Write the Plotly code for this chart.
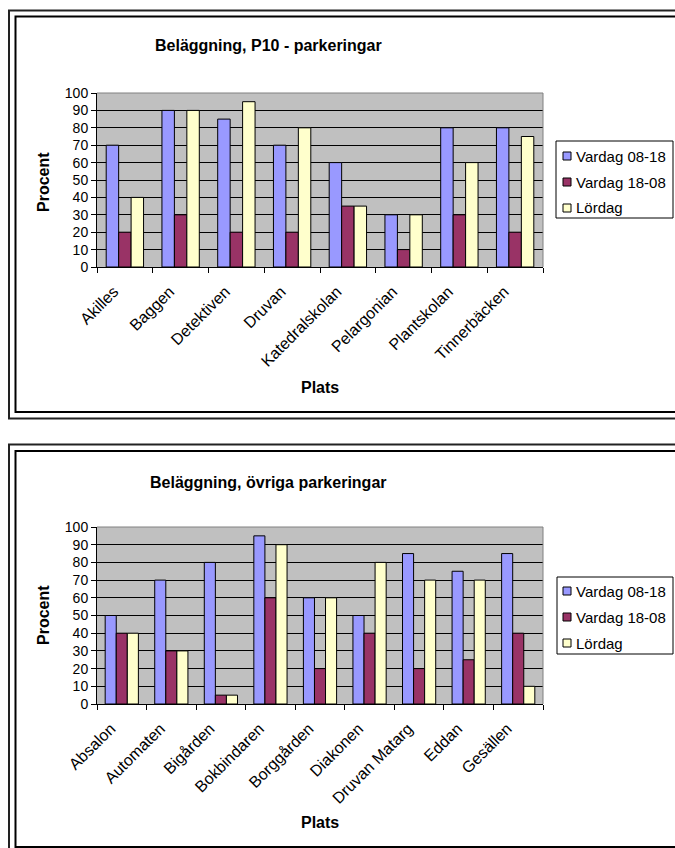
import plotly.graph_objects as go

W, H = 675, 848

series_names = ["Vardag 08-18", "Vardag 18-08", "Lördag"]
colors = ["#9999FF", "#993366", "#FFFFCC"]

p10_places = ["Akilles", "Baggen", "Detektiven", "Druvan", "Katedralskolan",
              "Pelargonian", "Plantskolan", "Tinnerbäcken"]
p10_vardag_dag = [70, 90, 85, 70, 60, 30, 80, 80]
p10_vardag_natt = [20, 30, 20, 20, 35, 10, 30, 20]
p10_lordag = [40, 90, 95, 80, 35, 30, 60, 75]

ovr_places = ["Absalon", "Automaten", "Bigården", "Bokbindaren", "Borggården",
              "Diakonen", "Druvan Matarg", "Eddan", "Gesällen"]
ovr_vardag_dag = [50, 70, 80, 95, 60, 50, 85, 75, 85]
ovr_vardag_natt = [40, 30, 5, 60, 20, 40, 20, 25, 40]
ovr_lordag = [40, 30, 5, 90, 60, 80, 70, 70, 10]

y_ticks = list(range(0, 101, 10))

FONT = "Arial, Liberation Sans, sans-serif"


def px(x):
    return x / W


def py(y):
    return 1 - y / H


fig = go.Figure()

charts = [
    dict(places=p10_places, vals=[p10_vardag_dag, p10_vardag_natt, p10_lordag],
         xa="x", ya="y"),
    dict(places=ovr_places, vals=[ovr_vardag_dag, ovr_vardag_natt, ovr_lordag],
         xa="x2", ya="y2"),
]

for ch in charts:
    for name, vals, col in zip(series_names, ch["vals"], colors):
        fig.add_trace(go.Bar(
            x=ch["places"], y=vals, name=name,
            marker=dict(color=col, line=dict(color="black", width=1)),
            xaxis=ch["xa"], yaxis=ch["ya"], showlegend=False,
        ))

# plot geometry (pixels)
plot_left, plot_right = 97, 543
top_plot = (93, 267)
bot_plot = (527, 704)

axis_common = dict(
    showline=True, linecolor="black", linewidth=1,
    ticks="outside", ticklen=5, tickcolor="black", tickwidth=1,
    automargin=False,
)

xaxis_common = dict(
    axis_common, type="category", tickson="boundaries", showgrid=False,
    tickangle=-45, tickfont=dict(family=FONT, size=16, color="black"),
    ticklabelstandoff=8, ticklabelshift=-11,
)
yaxis_common = dict(
    axis_common, range=[0, 100], tickvals=y_ticks, showgrid=True,
    gridcolor="black", gridwidth=1, zeroline=False,
    tickfont=dict(family=FONT, size=14, color="black"),
)

fig.update_layout(
    template="none",
    width=W, height=H,
    margin=dict(l=0, r=0, t=0, b=0, pad=0, autoexpand=False),
    paper_bgcolor="white", plot_bgcolor="#C0C0C0",
    barmode="group",
    bargap=0.33,
    bargroupgap=0,
    showlegend=False,
    xaxis=dict(xaxis_common, domain=[px(plot_left), px(plot_right)], anchor="y"),
    yaxis=dict(yaxis_common, domain=[py(top_plot[1]), py(top_plot[0])], anchor="x"),
    xaxis2=dict(xaxis_common, domain=[px(plot_left), px(plot_right)], anchor="y2"),
    yaxis2=dict(yaxis_common, domain=[py(bot_plot[1]), py(bot_plot[0])], anchor="x2"),
)

# text annotations
annots = []
for title, ty in [("Beläggning, P10 - parkeringar", 45), ("Beläggning, övriga parkeringar", 482)]:
    annots.append(dict(text="<b>%s</b>" % title, x=px(268), y=py(ty), xref="paper", yref="paper",
                       showarrow=False, xanchor="center", yanchor="middle",
                       font=dict(family=FONT, size=16, color="black")))
for yy in [182, 615]:
    annots.append(dict(text="<b>Procent</b>", x=px(43), y=py(yy), xref="paper", yref="paper",
                       showarrow=False, textangle=-90, xanchor="center", yanchor="middle",
                       font=dict(family=FONT, size=16, color="black")))
for yy in [388, 822]:
    annots.append(dict(text="<b>Plats</b>", x=px(320), y=py(yy), xref="paper", yref="paper",
                       showarrow=False, xanchor="center", yanchor="middle",
                       font=dict(family=FONT, size=16, color="black")))

shapes = []
# double frames around each chart
for (x0, y0, x1, y1, col) in [
    (9, 10.5, 700, 418.5, "#222"), (15.5, 16.5, 700, 412, "black"),
    (9, 444.5, 700, 900, "#222"), (15.5, 451, 700, 847, "black"),
]:
    shapes.append(dict(type="rect", xref="paper", yref="paper",
                       x0=px(x0), x1=px(x1), y0=py(y0), y1=py(y1),
                       line=dict(color=col, width=2), fillcolor="rgba(0,0,0,0)",
                       layer="above"))
# gray plot-area border (top and right)
for (t, b) in [top_plot, bot_plot]:
    shapes.append(dict(type="line", xref="paper", yref="paper",
                       x0=px(plot_left), x1=px(plot_right), y0=py(t), y1=py(t),
                       line=dict(color="#808080", width=1), layer="above"))
    shapes.append(dict(type="line", xref="paper", yref="paper",
                       x0=px(plot_right), x1=px(plot_right), y0=py(t), y1=py(b),
                       line=dict(color="#808080", width=1), layer="above"))

# legends (box, colour keys, labels), one per chart
legend_boxes = [
    dict(x0=556, x1=673, y0=141, y1=218, rows=[156, 182, 208]),
    dict(x0=557, x1=673, y0=577, y1=654, rows=[591, 617, 643]),
]
for lb in legend_boxes:
    shapes.append(dict(type="rect", xref="paper", yref="paper",
                       x0=px(lb["x0"]), x1=px(lb["x1"]), y0=py(lb["y0"]), y1=py(lb["y1"]),
                       line=dict(color="black", width=1), fillcolor="white", layer="above"))
    for name, col, ry in zip(series_names, colors, lb["rows"]):
        shapes.append(dict(type="rect", xref="paper", yref="paper",
                           x0=px(563), x1=px(571), y0=py(ry - 4), y1=py(ry + 4),
                           line=dict(color="black", width=1), fillcolor=col, layer="above"))
        annots.append(dict(text=name, x=px(574), y=py(ry), xref="paper", yref="paper",
                           showarrow=False, xanchor="left", yanchor="middle",
                           font=dict(family=FONT, size=15, color="black")))

fig.update_layout(shapes=shapes, annotations=annots)

fig.write_html(
    "out.html",
    config={"displayModeBar": False},
    post_script="document.body.style.margin='0';document.body.style.overflow='hidden';",
)
